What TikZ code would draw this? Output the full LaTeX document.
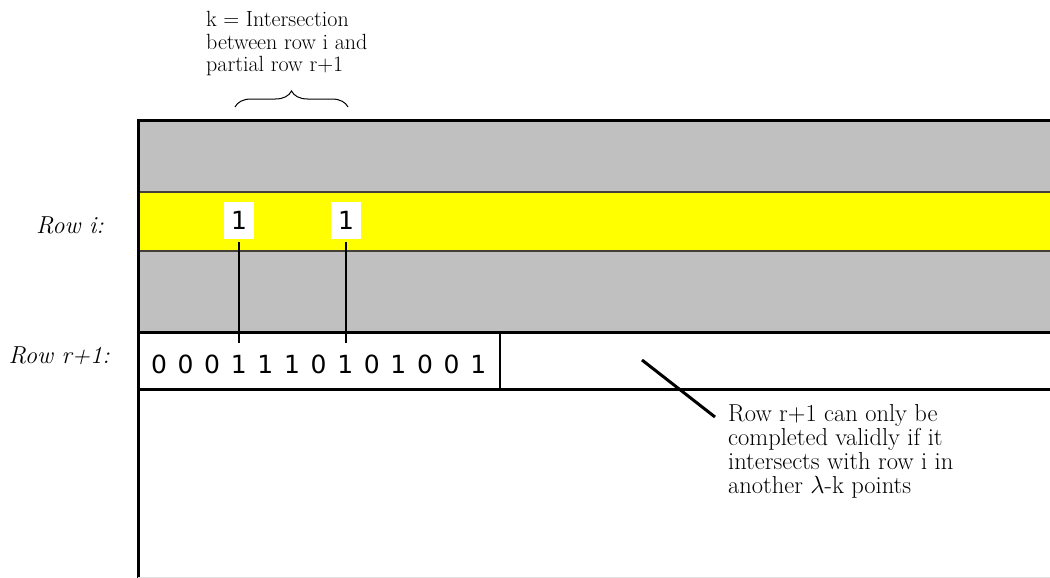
\documentclass[tikz,border=0pt]{standalone}
\usepackage{fontspec}
\newfontfamily\digitfont{DejaVu Sans}
\usetikzlibrary{decorations.pathreplacing,calc}
\definecolor{bandgray}{HTML}{C0C0C0}
\definecolor{bandyellow}{HTML}{FFFF00}
\tikzset{
  frame/.style={line width=3pt, line cap=rect},
  bit/.style={font=\digitfont\fontsize{25}{25}\selectfont, inner xsep=0pt, inner ysep=12pt, anchor=base},
  hitbit/.style={font=\digitfont\fontsize{25}{25}\selectfont, fill=white, inner sep=0pt,
                 minimum width=30pt, minimum height=37pt},
  rowlabel/.style={font=\itshape\fontsize{24.5}{24.5}\selectfont, inner sep=0pt, anchor=base east},
  note/.style={align=left, inner sep=0pt, anchor=north west},
  link/.style={line width=2.5pt}
}
\begin{document}
\begin{tikzpicture}[x=1pt,y=-1pt]
  \useasboundingbox (0,0) rectangle (1050,578);

  % grey matrix area and the highlighted row i
  \fill[bandgray] (138,120) rectangle (1050,332);
  \filldraw[fill=bandyellow, draw=black!85!yellow, line width=1.5pt] (138,192) rectangle (1052,251);

  % frame of the matrix
  \draw[frame] (1050,120) -- (138,120) -- (138,578);
  \draw[frame] (138,332) -- (1050,332);
  \draw[line width=2.5pt] (138,389.5) -- (1050,389.5);
  \draw[line width=2.5pt] (500,332) -- (500,389.5);
  \draw[black!12, line width=0.8pt] (138,577) -- (1050,577);

  % row labels
  \node[rowlabel] (lrowi) at (104,233) {Row i:};
  \node[rowlabel] (lrowr) at (110,363) {Row r+1:};

  % ones of row i
  \node[hitbit] (t1) at (239,220.5) {1};
  \node[hitbit] (t2) at (346,220.5) {1};

  % partial row r+1
  \foreach \b [count=\i from 0] in {0,0,0,1,1,1,0,1,0,1,0,0,1} {
    \node[bit] (d\i) at ({159+26.6*\i},373) {\b};
  }

  % intersections
  \draw[link, shorten <=3pt] (t1.south) -- (t1.south |- d3.north);
  \draw[link, shorten <=3pt] (t2.south) -- (t2.south |- d7.north);

  % brace over the intersection columns
  \coordinate (bl) at (235,107);
  \coordinate (br) at (348,107);
  \draw[line width=1pt, decorate, decoration={brace, amplitude=16pt}] (bl) -- (br);

  \node[note, font=\fontsize{22}{22.5}\selectfont] (ktext) at (206,11.5)
    {k = Intersection\\between row i and\\partial row r+1};

  % explanation of the remaining part of row r+1
  \node[note, font=\fontsize{24.5}{24}\selectfont] (rest) at (728,404)
    {Row r+1 can only be\\completed validly if it\\intersects with row i in\\another $\lambda$-k points};
  \coordinate (ptr) at (642,360);
  \draw[line width=3pt] (ptr) -- ($(rest.north west)+(-13,13)$);
\end{tikzpicture}
\end{document}
